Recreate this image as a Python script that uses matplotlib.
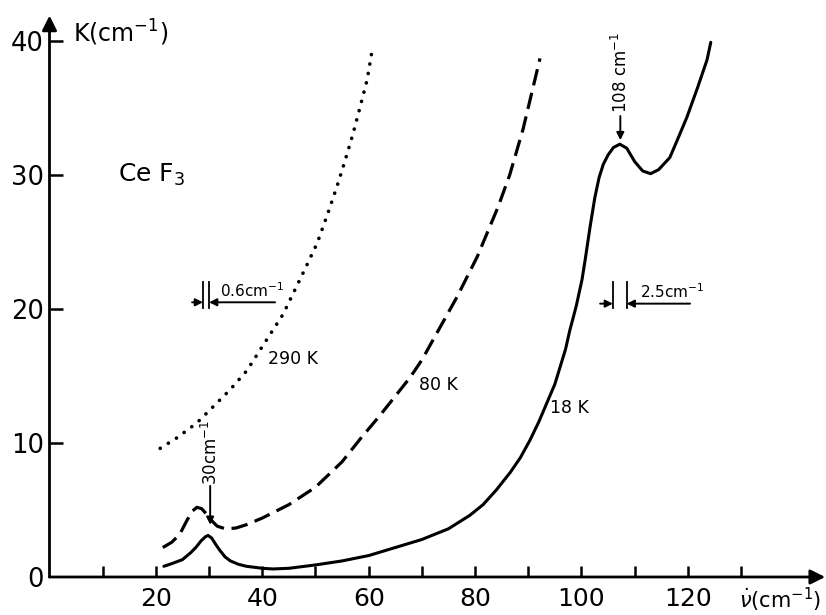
import matplotlib
matplotlib.use("Agg")
import matplotlib.pyplot as plt

# ---- data ----
x_18K = [21.5, 23, 25, 26.5, 27.5, 28.5, 29.3, 29.8, 30.5, 31.3, 32, 33, 34, 35.5, 37, 40, 42, 45,
         50, 55, 60, 65, 70, 75, 79, 81.5, 84, 86.6, 88.5, 90.3, 92, 93.5, 95, 96, 97, 97.8, 99,
         100.1, 100.7, 101.6, 102.5, 103.3, 104.1, 105, 106, 107.2, 108.5, 110, 111.5, 113, 114.5,
         116.6, 118, 119.8, 121.8, 123.6, 124.3]
y_18K = [0.8, 1.0, 1.3, 1.8, 2.2, 2.7, 3.0, 3.1, 2.9, 2.4, 2.0, 1.5, 1.2, 0.95, 0.8, 0.65, 0.6, 0.65,
         0.9, 1.2, 1.6, 2.2, 2.8, 3.6, 4.6, 5.4, 6.5, 7.8, 8.9, 10.2, 11.6, 13.0, 14.4, 15.7, 17.0,
         18.4, 20.2, 22.2, 23.7, 26.1, 28.3, 29.8, 30.8, 31.5, 32.05, 32.3, 32.0, 31.0, 30.3, 30.1,
         30.4, 31.3, 32.6, 34.3, 36.5, 38.6, 39.9]

x_80K = [21.3, 23, 24.5, 25.8, 26.8, 27.7, 28.6, 29.5, 30.5, 31.5, 33, 35, 37, 40, 45, 50, 55, 58.4,
         62, 65, 67.8, 70, 72.1, 76.6, 80.4, 84.3, 86.5, 89, 92.2]
y_80K = [2.2, 2.6, 3.2, 4.2, 4.9, 5.2, 5.1, 4.7, 4.2, 3.8, 3.6, 3.65, 3.9, 4.4, 5.4, 6.7, 8.6, 10.3,
         12.0, 13.5, 14.9, 16.2, 17.7, 20.9, 23.9, 27.6, 30.0, 33.4, 38.7]

x_290K = [20.8, 24, 27.7, 31, 34, 37.1, 40, 43.9, 47.8, 50.3, 52.2, 54.0, 55.5, 57.0, 58.4, 59.7, 60.6]
y_290K = [9.6, 10.4, 11.5, 12.8, 14.0, 15.4, 17.2, 19.6, 22.8, 24.9, 27.0, 29.1, 31.0, 33.0, 35.1, 37.1, 39.2]

x_ticks = [10, 20, 30, 40, 50, 60, 70, 80, 90, 100, 110, 120, 130]
x_ticklabels = ["", "20", "", "40", "", "60", "", "80", "", "100", "", "120", ""]
y_ticks = [0, 10, 20, 30, 40]
y_ticklabels = ["0", "10", "20", "30", "40"]

W, H = 826, 615
fig = plt.figure(figsize=(W / 100, H / 100), dpi=100)
ax = fig.add_axes([49.5 / W, (H - 577) / H, 146 * 5.32 / W, 42 * 13.4 / H])
ax.set_xlim(0, 146)
ax.set_ylim(0, 42)

for s in ax.spines.values():
    s.set_visible(False)

# axes with arrows
ax.annotate("", xy=(145.8, 0), xytext=(0, 0), xycoords="data",
            arrowprops=dict(arrowstyle="-|>", lw=2.0, color="k", mutation_scale=22,
                            shrinkA=0, shrinkB=0), annotation_clip=False)
ax.annotate("", xy=(0, 41.9), xytext=(0, 0), xycoords="data",
            arrowprops=dict(arrowstyle="-|>", lw=2.0, color="k", mutation_scale=22,
                            shrinkA=0, shrinkB=0), annotation_clip=False)

ax.set_xticks(x_ticks)
ax.set_xticklabels(x_ticklabels)
ax.set_yticks(y_ticks)
ax.set_yticklabels(y_ticklabels)
ax.tick_params(axis="x", direction="in", length=8, width=1.8, pad=7, labelsize=18)
ax.tick_params(axis="y", direction="in", length=9, width=1.8, pad=4, labelsize=18.5)
ax.yaxis.get_major_ticks()[0].tick1line.set_visible(False)

# curves
ax.plot(x_18K, y_18K, color="k", lw=2.2, solid_capstyle="round", solid_joinstyle="round",
        clip_on=False)
l80, = ax.plot(x_80K, y_80K, color="k", lw=2.3, clip_on=False)
l80.set_dashes((5.2, 2.4))
l290, = ax.plot(x_290K, y_290K, color="k", lw=2.6, dash_capstyle="round", clip_on=False)
l290.set_dashes((0.05, 2.6))

# texts
ax.text(4.4, 40.6, "K(cm$^{-1}$)", fontsize=17, ha="left", va="center")
ax.text(129.6, -1.7, r"$\dot{\nu}$(cm$^{-1}$)", fontsize=15, ha="left", va="center",
        clip_on=False)
ax.text(12.8, 30.0, "Ce F$_3$", fontsize=18, ha="left", va="center")
ax.text(41.0, 16.3, "290 K", fontsize=12.5, ha="left", va="center")
ax.text(69.4, 14.3, "80 K", fontsize=12.5, ha="left", va="center")
ax.text(94.0, 12.6, "18 K", fontsize=12.5, ha="left", va="center")

ann_kw = dict(arrowstyle="-|>", lw=1.4, color="k", mutation_scale=11, shrinkA=0, shrinkB=0)

# 30 cm-1 marker
ax.annotate("", xy=(30.2, 3.9), xytext=(30.2, 6.8), arrowprops=ann_kw)
ax.text(30.4, 6.9, "30cm$^{-1}$", fontsize=12, rotation=90, ha="center", va="bottom")

# 108 cm-1 marker
ax.annotate("", xy=(107.3, 32.6), xytext=(107.3, 34.4), arrowprops=ann_kw)
ax.text(107.4, 34.6, "108 cm$^{-1}$", fontsize=12, rotation=90, ha="center", va="bottom")

# 0.6 cm-1 resolution
for xb in (28.85, 30.0):
    ax.plot([xb, xb], [20.1, 22.0], color="k", lw=1.3)
ax.annotate("", xy=(28.85, 20.5), xytext=(26.8, 20.5), arrowprops=ann_kw)
ax.annotate("", xy=(30.0, 20.5), xytext=(42.4, 20.5), arrowprops=ann_kw)
ax.text(32.0, 20.7, "0.6cm$^{-1}$", fontsize=11, ha="left", va="bottom")

# 2.5 cm-1 resolution
for xb in (105.9, 108.5):
    ax.plot([xb, xb], [20.1, 22.0], color="k", lw=1.3)
ax.annotate("", xy=(105.9, 20.4), xytext=(103.5, 20.4), arrowprops=ann_kw)
ax.annotate("", xy=(108.5, 20.4), xytext=(120.4, 20.4), arrowprops=ann_kw)
ax.text(111.0, 20.6, "2.5cm$^{-1}$", fontsize=11, ha="left", va="bottom")

fig.savefig("out.png", dpi=100)
